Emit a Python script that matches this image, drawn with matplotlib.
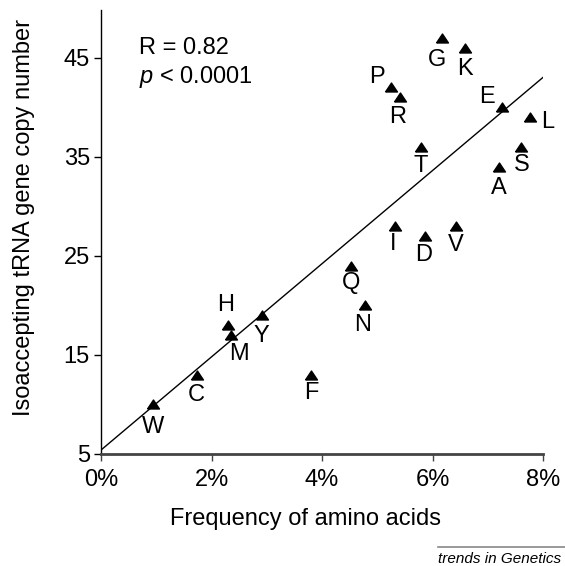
import matplotlib
matplotlib.use('Agg')
import matplotlib.pyplot as plt
import numpy as np

plt.rcParams['font.family'] = ['Liberation Sans', 'DejaVu Sans']
plt.rcParams['mathtext.fontset'] = 'custom'
plt.rcParams['mathtext.rm'] = 'Liberation Sans'
plt.rcParams['mathtext.it'] = 'Liberation Sans:italic'

# amino acid, frequency (fraction), isoaccepting tRNA gene copy number
amino = ['W', 'C', 'H', 'M', 'Y', 'F', 'Q', 'N', 'I', 'D',
         'V', 'T', 'P', 'R', 'G', 'K', 'E', 'L', 'S', 'A']
freq = [0.0094, 0.0174, 0.0230, 0.0235, 0.0291, 0.0380, 0.0452, 0.0477, 0.0533, 0.0586,
        0.0642, 0.0580, 0.0524, 0.0541, 0.0618, 0.0659, 0.0725, 0.0777, 0.0761, 0.0721]
copies = [10, 13, 18, 17, 19, 13, 24, 20, 28, 27,
          28, 36, 42, 41, 47, 46, 40, 39, 36, 34]

# regression line end points
fit_x = [0.0, 0.08]
fit_y = [5.4, 43.0]

# label offsets in pixels (dx, dy), dy positive = up
offsets = {'W': (0, -23), 'C': (-1, -20), 'H': (-2, 20), 'M': (8, -19), 'Y': (0, -21),
           'F': (0, -18), 'Q': (0, -17), 'N': (-2, -20), 'I': (-2, -18), 'D': (-1, -19),
           'V': (0, -19), 'T': (-1, -19), 'P': (-14, 10), 'R': (-2, -20), 'G': (-5, -22),
           'K': (0, -21), 'E': (-15, 10), 'L': (17, -5), 'S': (0, -18), 'A': (-1, -21)}

# wide flat triangle like the original marker
tri = [(-1, -0.75), (1, -0.75), (0, 0.75), (-1, -0.75)]

fig = plt.figure(figsize=(5.65, 5.66), dpi=100)
ax = fig.add_axes([101/565, 1-454/566, 442/565, 444/566])

ax.plot(fit_x, fit_y, color='black', lw=1)
ax.plot(freq, copies, linestyle='none', marker=tri, color='black', markersize=8.6)

for a, x, y in zip(amino, freq, copies):
	dx, dy = offsets[a]
	ax.annotate(a, (x, y), xytext=(dx, dy), textcoords='offset pixels',
				ha='center', va='center', fontsize=17)

ax.set_xlim(0, 0.08)
ax.set_ylim(5, 49.8)
ax.set_xticks([0, 0.02, 0.04, 0.06, 0.08])
ax.set_xticklabels(['0%', '2%', '4%', '6%', '8%'])
ax.set_yticks([5, 15, 25, 35, 45])
ax.tick_params(labelsize=17, length=5, width=1, pad=3)
ax.tick_params(axis='x', color='#444444', pad=6)

ax.spines['top'].set_visible(False)
ax.spines['right'].set_visible(False)
ax.spines['left'].set_linewidth(1)
ax.spines['bottom'].set_linewidth(2)
ax.spines['bottom'].set_color('#444444')

# axis titles placed where they sit in the original
fig.text(306/565, 1-519/566, 'Frequency of amino acids', fontsize=17, ha='center', va='center')
fig.text(24/565, 1-217/566, 'Isoaccepting tRNA gene copy number', fontsize=17,
		 rotation=90, ha='center', va='center')

ax.text(0.085, 0.914, 'R = 0.82', transform=ax.transAxes, fontsize=17, va='center')
ax.text(0.085, 0.849, r'$\it{p}$ < 0.0001', transform=ax.transAxes, fontsize=17, va='center')

fig.add_artist(plt.Line2D([438/565, 1], [1-547/566, 1-547/566], color='#888888', lw=1.2))
fig.text(438/565, 1-559/566, 'trends in Genetics', fontsize=11, style='italic', va='center')

fig.savefig('out.png', dpi=100)
